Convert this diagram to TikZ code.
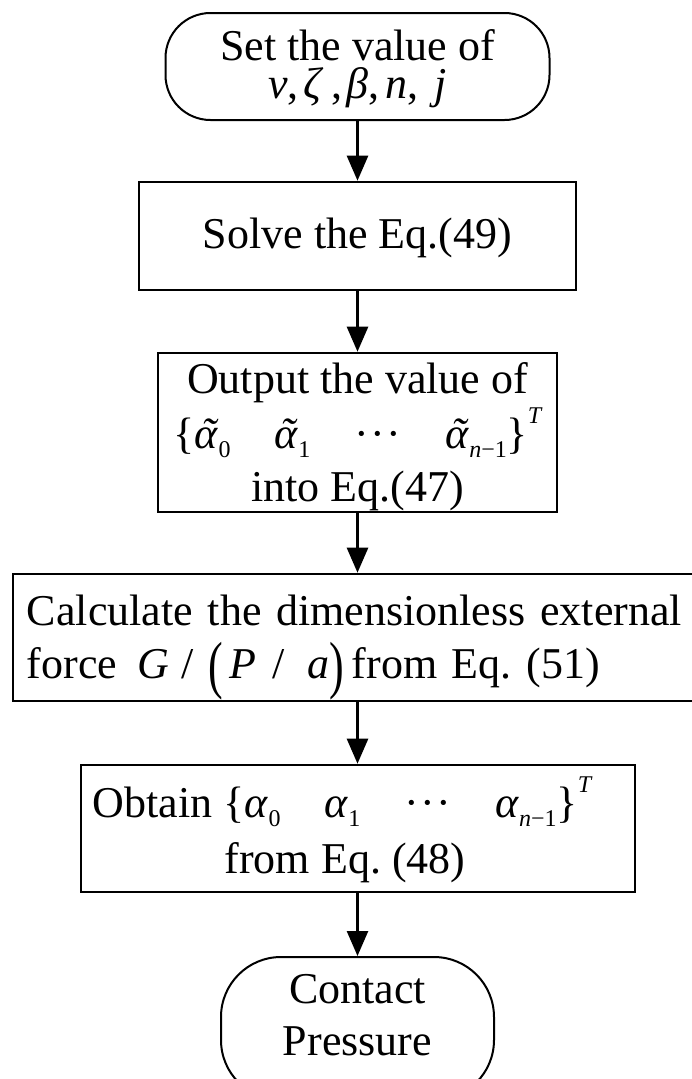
\documentclass[tikz,border=0pt]{standalone}
\usepackage{fontspec}
\setmainfont{Liberation Serif}
\usepackage{graphicx}
\usetikzlibrary{arrows.meta}
\frenchspacing

\newcommand\ta{\ooalign{\textit{α}\cr\hidewidth\hspace{6pt}\textit{\char"02DC}\hidewidth\cr}}
\newcommand\sbs[1]{\raisebox{-9pt}{\fontsize{24}{24}\selectfont #1}}
\newcommand\spT{\raisebox{25pt}{\fontsize{24}{24}\selectfont\itshape T}}
\newcommand\dts{·\hspace{1.5pt}·\hspace{1.5pt}·}
\newcommand\bigp[1]{\raisebox{-8pt}[0pt][0pt]{\scalebox{1}[1.45]{#1}}}

\tikzset{
  term/.style={draw, line width=2pt, inner sep=0pt, align=center},
  box/.style={draw, line width=2.6pt, inner sep=0pt, align=center},
  arr/.style={line width=2.6pt, -{Triangle[length=25pt,width=21pt]}},
}

\begin{document}
\frenchspacing
\begin{tikzpicture}[x=1pt,y=-1pt]
\useasboundingbox (0,0) rectangle (692,1079);
\fill[white] (0,0) rectangle (692,1079);
\clip (0,0) rectangle (692,1079);

\node[term, rounded corners=45pt, minimum width=384pt, minimum height=107pt,
      font=\fontsize{44}{38}\selectfont, text height=68pt, text depth=5pt]
  (t1) at (357.5,66.5)
  {Set the value of\\
   \textit{ν},\hspace{5pt}\textit{ζ}\hspace{8pt},\hspace{4pt}\textit{β},\hspace{6pt}\textit{n},\hspace{16pt}\textit{j}};

\node[box, minimum width=437pt, minimum height=108pt,
      font=\fontsize{44}{53}\selectfont, text height=30pt, text depth=6pt]
  (solve) at (357.5,236) {Solve the Eq.(49)};

\node[box, minimum width=399pt, minimum height=159pt,
      font=\fontsize{44}{53}\selectfont, text height=138pt, text depth=1pt]
  (output) at (357.5,432.5)
  {Output the value of\\[2pt]
   \{\ta\sbs{0}\quad\ta\sbs{1}\quad\dts\quad\ta\sbs{\textit{n}−1}\}\spT\\
   into Eq.(47)};

\node[box, align=left, minimum width=688pt, minimum height=127pt,
      text width=660pt, inner xsep=14pt, inner ysep=0pt,
      font=\fontsize{44}{53}\selectfont, text height=30pt, text depth=55pt]
  (calc) at (357,637.5)
  {Calculate the dimensionless external\\
   force\hspace{20pt}\textit{G}\hspace{12pt}/\hspace{15pt}\bigp{(}\hspace{6pt}\textit{P}\hspace{17pt}/\hspace{22pt}\textit{a}\bigp{)}\hspace{8pt}from Eq. (51)};

\node[box, minimum width=554pt, minimum height=127pt,
      font=\fontsize{44}{56}\selectfont, text height=96pt, text depth=7pt]
  (obtain) at (358,828.5)
  {\hspace*{-32pt}Obtain \{\textit{α}\sbs{0}\quad\textit{α}\sbs{1}\quad\dts\quad\textit{α}\sbs{\textit{n}−1}\}\spT\\
   \hspace*{-26pt}from Eq. (48)};

\node[term, rounded corners=60pt, minimum width=273pt, minimum height=143pt,
      font=\fontsize{44}{52}\selectfont, text height=82pt, text depth=29pt]
  (t2) at (357.5,1028.5) {Contact\\Pressure};

\draw[arr] (t1) -- (t1 |- solve.north);
\draw[arr] (solve) -- (solve |- output.north);
\draw[arr] (output) -- (output |- calc.north);
\draw[arr] (calc.south -| output) -- (output |- obtain.north);
\draw[arr] (obtain.south -| output) -- (output |- t2.north);
\end{tikzpicture}
\end{document}
